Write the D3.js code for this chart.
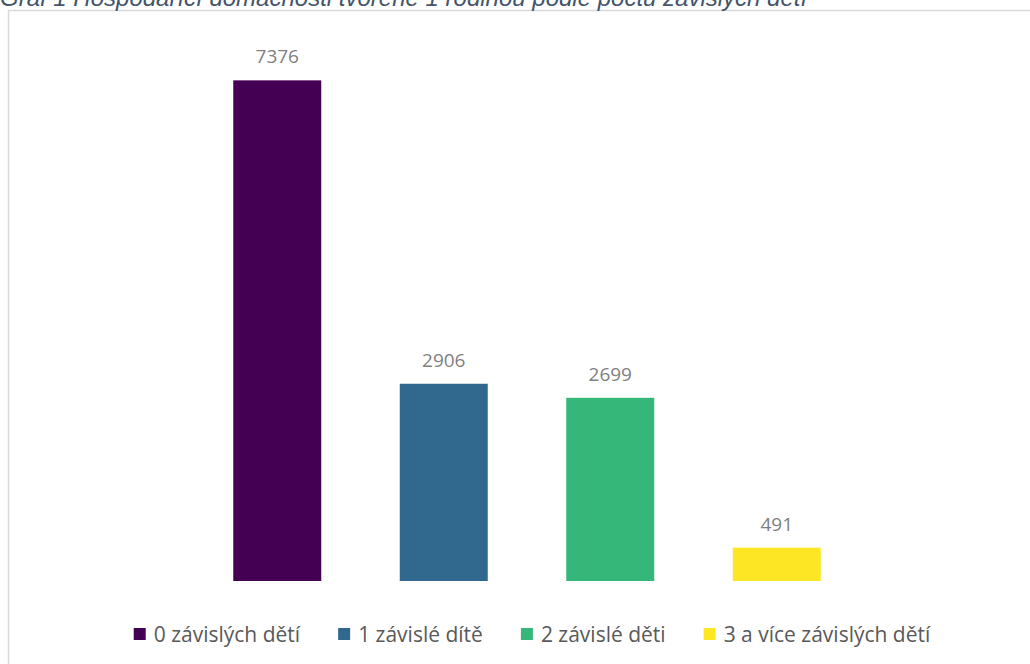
<!DOCTYPE html>
<html>
<head>
<meta charset="utf-8">
<script src="https://cdn.jsdelivr.net/npm/d3@7"></script>
<style>
  body { margin: 0; background: #fff; }
  svg { display: block; }
</style>
</head>
<body>
<script>
// data
const categories = ["0 závislých dětí", "1 závislé dítě", "2 závislé děti", "3 a více závislých dětí"];
const values = [7376, 2906, 2699, 491];
const colors = ["#440154", "#31688e", "#35b779", "#fde725"];
const title = "Graf 1 Hospodařící domácnosti tvořené 1 rodinou podle počtu závislých dětí";

const width = 1030, height = 664;

const svg = d3.select("body")
  .append("svg")
  .attr("width", width)
  .attr("height", height);

// chart frame (runs off the right and bottom edge)
svg.append("rect")
  .attr("x", 8.5)
  .attr("y", 10.5)
  .attr("width", 1040)
  .attr("height", 700)
  .style("fill", "#fff")
  .style("stroke", "#d9d9d9")
  .style("stroke-width", 1.5);

// title, partly above the top of the page as in the reference
svg.append("text")
  .attr("x", 0)
  .attr("y", 6)
  .style("font-family", "'Liberation Sans', Arial, sans-serif")
  .style("font-style", "italic")
  .style("font-size", "24px")
  .style("fill", "#44546a")
  .text(title);

const x = d3.scaleBand()
  .domain(categories)
  .range([194, 860])
  .paddingInner(0.4715)
  .paddingOuter(0.4715 / 2);

const y = d3.scaleLinear()
  .domain([0, 8000])
  .range([581, 38]);

svg.selectAll(".bar")
  .data(values)
  .enter()
  .append("rect")
  .attr("class", "bar")
  .attr("x", (d, i) => x(categories[i]))
  .attr("y", d => y(d))
  .attr("width", x.bandwidth())
  .attr("height", d => y(0) - y(d))
  .style("fill", (d, i) => colors[i]);

svg.selectAll(".label")
  .data(values)
  .enter()
  .append("text")
  .attr("class", "label")
  .attr("x", (d, i) => x(categories[i]) + x.bandwidth() / 2)
  .attr("y", d => y(d) - 17)
  .attr("text-anchor", "middle")
  .style("font-family", "'Open Sans', sans-serif")
  .style("font-size", "19px")
  .style("fill", "#7f7f7f")
  .text(d => d);

// legend
const legend = svg.append("g").attr("id", "legend");
let cursor = 0;
categories.forEach((c, i) => {
  const item = legend.append("g").attr("transform", "translate(" + cursor + ",0)");
  item.append("rect")
    .attr("x", 0)
    .attr("y", -6)
    .attr("width", 12)
    .attr("height", 12)
    .style("fill", colors[i]);
  const t = item.append("text")
    .attr("x", 20)
    .attr("y", 7.5)
    .style("font-family", "'Open Sans', sans-serif")
    .style("font-size", "21px")
    .style("fill", "#595959")
    .text(c);
  cursor += 20 + t.node().getComputedTextLength() + 38;
});
const legendWidth = cursor - 38;
legend.attr("transform", "translate(" + (532 - legendWidth / 2) + ",634)");
</script>
</body>
</html>
